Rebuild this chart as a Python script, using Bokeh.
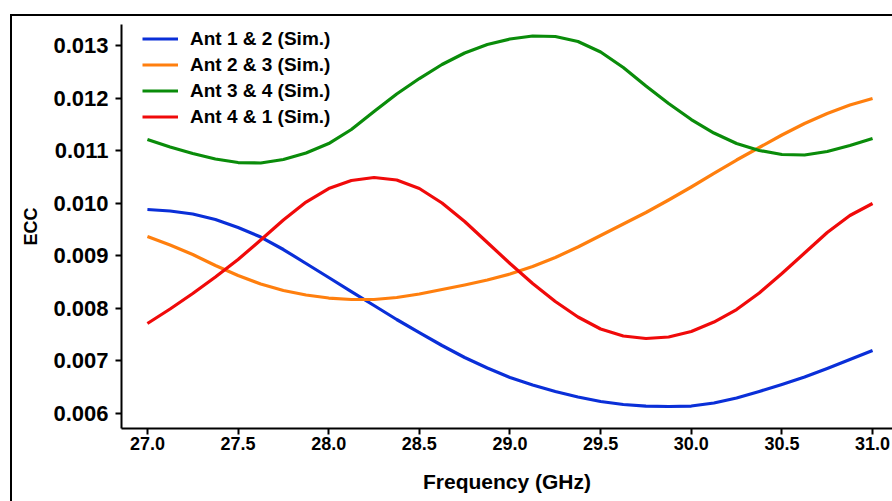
from bokeh.plotting import figure
from bokeh.models import Legend, LegendItem, Range1d, FixedTicker
from bokeh.embed import file_html
from bokeh.resources import INLINE

# Frequency sweep (GHz) and envelope correlation coefficient for each antenna pair
freq = [27.0, 27.125, 27.25, 27.375, 27.5, 27.625, 27.75, 27.875,
        28.0, 28.125, 28.25, 28.375, 28.5, 28.625, 28.75, 28.875,
        29.0, 29.125, 29.25, 29.375, 29.5, 29.625, 29.75, 29.875,
        30.0, 30.125, 30.25, 30.375, 30.5, 30.625, 30.75, 30.875, 31.0]

ecc_12 = [0.009876, 0.009848, 0.009790, 0.009686, 0.009533, 0.009352,
          0.009114, 0.008848, 0.008581, 0.008314, 0.008048, 0.007781,
          0.007533, 0.007286, 0.007057, 0.006857, 0.006676, 0.006533,
          0.006410, 0.006305, 0.006219, 0.006162, 0.006133, 0.006124,
          0.006133, 0.006190, 0.006286, 0.006410, 0.006543, 0.006686,
          0.006848, 0.007019, 0.007190]
ecc_23 = [0.009362, 0.009200, 0.009019, 0.008810, 0.008619, 0.008457,
          0.008333, 0.008248, 0.008190, 0.008162, 0.008162, 0.008200,
          0.008267, 0.008352, 0.008438, 0.008533, 0.008648, 0.008790,
          0.008962, 0.009162, 0.009381, 0.009600, 0.009819, 0.010057,
          0.010305, 0.010562, 0.010819, 0.011057, 0.011295, 0.011514,
          0.011705, 0.011867, 0.011990]
ecc_34 = [0.011210, 0.011067, 0.010943, 0.010838, 0.010771, 0.010762,
          0.010829, 0.010952, 0.011133, 0.011400, 0.011743, 0.012076,
          0.012371, 0.012638, 0.012857, 0.013019, 0.013124, 0.013181,
          0.013171, 0.013076, 0.012876, 0.012581, 0.012229, 0.011895,
          0.011590, 0.011333, 0.011133, 0.011000, 0.010924, 0.010914,
          0.010981, 0.011095, 0.011229]
ecc_41 = [0.007705, 0.007981, 0.008276, 0.008590, 0.008924, 0.009295,
          0.009676, 0.010019, 0.010276, 0.010429, 0.010486, 0.010438,
          0.010276, 0.010000, 0.009648, 0.009248, 0.008848, 0.008467,
          0.008124, 0.007829, 0.007600, 0.007467, 0.007419, 0.007448,
          0.007552, 0.007733, 0.007971, 0.008286, 0.008657, 0.009048,
          0.009438, 0.009762, 0.009990]

series_names = ["Ant 1 & 2 (Sim.)", "Ant 2 & 3 (Sim.)",
                "Ant 3 & 4 (Sim.)", "Ant 4 & 1 (Sim.)"]
series_values = [ecc_12, ecc_23, ecc_34, ecc_41]
series_colors = ["#0a2fd8", "#ff7f0e", "#0a8c0a", "#f00a0a"]

x_ticks = [27.0, 27.5, 28.0, 28.5, 29.0, 29.5, 30.0, 30.5, 31.0]
y_ticks = [0.006, 0.007, 0.008, 0.009, 0.010, 0.011, 0.012, 0.013]

FONT = "Liberation Sans"

p = figure(width=892, height=501, output_backend="svg", toolbar_location=None,
           x_range=Range1d(26.857, 31.110), y_range=Range1d(0.005705, 0.0134),
           min_border_left=121, min_border_right=0,
           min_border_top=24, min_border_bottom=73)
p.outline_line_color = None
p.grid.visible = False
p.background_fill_color = "white"
p.border_fill_color = None
# thin page frame drawn behind the (transparent) canvas border
p.styles = {
    "background": ("linear-gradient(#000, #000) 10px 14px / 2px 600px no-repeat, "
                   "linear-gradient(#000, #000) 10px 14px / 1000px 2px no-repeat, "
                   "#fff"),
}

renderers = []
for vals, col in zip(series_values, series_colors):
    r = p.line(freq, vals, line_color=col, line_width=3.2, line_join="round")
    renderers.append(r)

# axes: bold labels, outward ticks, heavy spines
for ax in (p.xaxis[0], p.yaxis[0]):
    ax.axis_line_width = 2
    ax.axis_line_color = "black"
    ax.major_tick_line_width = 2
    ax.major_tick_out = 6
    ax.major_tick_in = 0
    ax.minor_tick_line_color = None
    ax.major_label_text_font = FONT
    ax.major_label_text_font_style = "bold"
    ax.major_label_text_color = "black"
    ax.axis_label_text_font = FONT
    ax.axis_label_text_font_style = "bold"
    ax.axis_label_text_color = "black"

p.xaxis.ticker = FixedTicker(ticks=x_ticks)
p.xaxis.major_label_overrides = {t: f"{t:.1f}" for t in x_ticks}
p.xaxis.major_label_text_font_size = "18px"
p.xaxis.major_label_standoff = 2
p.xaxis.axis_label = "Frequency (GHz)"
p.xaxis.axis_label_text_font_size = "21px"
p.xaxis.axis_label_standoff = 17

p.yaxis.ticker = FixedTicker(ticks=y_ticks)
p.yaxis.major_label_overrides = {t: f"{t:.3f}" for t in y_ticks}
p.yaxis.major_label_text_font_size = "22px"
p.yaxis.major_label_standoff = 7
p.yaxis.axis_label = "ECC"
p.yaxis.axis_label_text_font_size = "18px"
p.yaxis.axis_label_standoff = 9

legend = Legend(items=[LegendItem(label=n, renderers=[r])
                       for n, r in zip(series_names, renderers)],
                location=(21, 299), padding=0, margin=0,
                glyph_width=36, glyph_height=25, label_height=25, spacing=1,
                label_standoff=12, background_fill_alpha=0,
                border_line_color=None,
                label_text_font=FONT, label_text_font_style="bold",
                label_text_font_size="19px", label_text_color="black")
p.add_layout(legend, "center")

open("out.html", "w").write(file_html(p, INLINE))
